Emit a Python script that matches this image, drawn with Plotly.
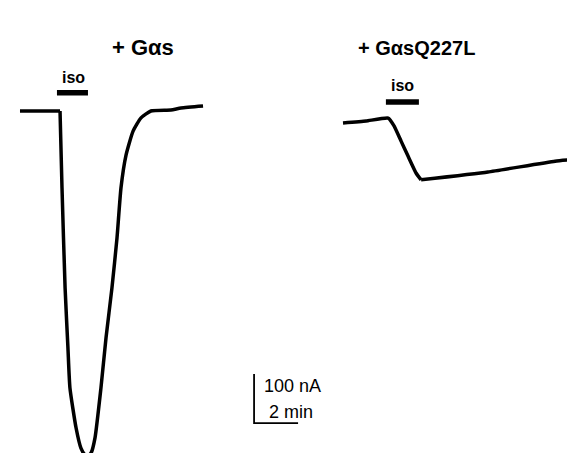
import plotly.graph_objects as go

# ---- data (time in min, current in nA relative to baseline) ----
gas_time = [0, 1.82, 1.91, 2.05, 2.18, 2.27, 2.55, 2.77, 2.95, 3.05, 3.23, 3.41,
            3.68, 3.91, 4.18, 4.41, 4.59, 4.82, 5.14, 5.50, 5.95, 6.86, 7.32, 8.32]
gas_current = [0, 0, -157, -361, -484, -565, -647, -688, -702, -705, -698, -667,
               -565, -463, -361, -259, -157, -90, -41, -14, 0, 2, 6, 10]

q227l_time = [0, 1.05, 2.05, 2.32, 2.64, 2.95, 3.32, 3.55, 6.59, 9.64, 10.91]
q227l_current = [0, 4, 10, -6, -37, -67, -102, -116, -100, -78, -73]

iso_gas = [1.68, 3.09]      # iso application (min)
iso_q227l = [1.95, 3.45]

titles = ["+ G\u03b1s", "+ G\u03b1sQ227L"]
scale_current = 100  # nA
scale_time = 2       # min

FONT = "Liberation Sans, Arial, sans-serif"
TRACE = dict(color="black", width=3.5)

fig = go.Figure()
# baseline before iso (sharp corner at onset), then smooth response
fig.add_trace(go.Scatter(x=gas_time[:2], y=gas_current[:2], mode="lines",
                         line=TRACE, xaxis="x", yaxis="y", hoverinfo="skip"))
fig.add_trace(go.Scatter(x=gas_time[1:], y=gas_current[1:], mode="lines",
                         line=dict(TRACE, shape="spline", smoothing=0.5),
                         xaxis="x", yaxis="y", hoverinfo="skip"))
fig.add_trace(go.Scatter(x=q227l_time[:8], y=q227l_current[:8], mode="lines",
                         line=dict(TRACE, shape="spline", smoothing=0.4),
                         xaxis="x2", yaxis="y2", hoverinfo="skip"))
fig.add_trace(go.Scatter(x=q227l_time[7:], y=q227l_current[7:], mode="lines",
                         line=dict(TRACE, shape="spline", smoothing=0.4),
                         xaxis="x2", yaxis="y2", hoverinfo="skip"))

# iso bars
fig.add_trace(go.Scatter(x=iso_gas, y=[37, 37], mode="lines",
                         line=dict(color="black", width=5.5),
                         xaxis="x", yaxis="y", hoverinfo="skip"))
fig.add_trace(go.Scatter(x=iso_q227l, y=[43, 43], mode="lines",
                         line=dict(color="black", width=5.5),
                         xaxis="x2", yaxis="y2", hoverinfo="skip"))

# scale bar
sx0, sy0 = 10.64, -637
fig.add_trace(go.Scatter(x=[sx0, sx0, sx0 + scale_time],
                         y=[sy0 + scale_current, sy0, sy0],
                         mode="lines", line=dict(color="black", width=1.8),
                         xaxis="x", yaxis="y", hoverinfo="skip"))

ax = dict(visible=False, fixedrange=True)
fig.update_layout(
    width=575, height=453,
    margin=dict(l=0, r=0, t=0, b=0),
    paper_bgcolor="white", plot_bgcolor="white",
    showlegend=False,
    xaxis=dict(domain=[0, 0.55], range=[-0.545, 13.83], **ax),
    yaxis=dict(domain=[0, 1], range=[-714.3, 210.2], **ax),
    xaxis2=dict(domain=[0.55, 1], range=[-0.852, 10.909], anchor="y2", **ax),
    yaxis2=dict(domain=[0, 1], range=[-689.8, 234.7], anchor="x2", **ax),
)

ann = []
ann.append(dict(text="<b>%s</b>" % titles[0], x=0.177, y=0.945, xref="paper", yref="paper",
                showarrow=False, font=dict(family=FONT, size=22, color="black")))
ann.append(dict(text="<b>%s</b>" % titles[1], x=0.816, y=0.94, xref="paper", yref="paper",
                showarrow=False, font=dict(family=FONT, size=20, color="black")))
ann.append(dict(text="<b>iso</b>", x=sum(iso_gas) / 2 + 0.05, y=37, yshift=15, xref="x", yref="y",
                showarrow=False, font=dict(family=FONT, size=16, color="black")))
ann.append(dict(text="<b>iso</b>", x=sum(iso_q227l) / 2, y=43, yshift=16, xref="x2", yref="y2",
                showarrow=False, font=dict(family=FONT, size=16, color="black")))
ann.append(dict(text="%d nA" % scale_current, x=sx0 + 0.35, y=sy0 + 75, xref="x", yref="y",
                xanchor="left", showarrow=False, font=dict(family=FONT, size=18, color="black")))
ann.append(dict(text="%d min" % scale_time, x=sx0 + 0.6, y=sy0 + 22, xref="x", yref="y",
                xanchor="left", showarrow=False, font=dict(family=FONT, size=18, color="black")))
fig.update_layout(annotations=ann)

fig.write_html("out.html")
